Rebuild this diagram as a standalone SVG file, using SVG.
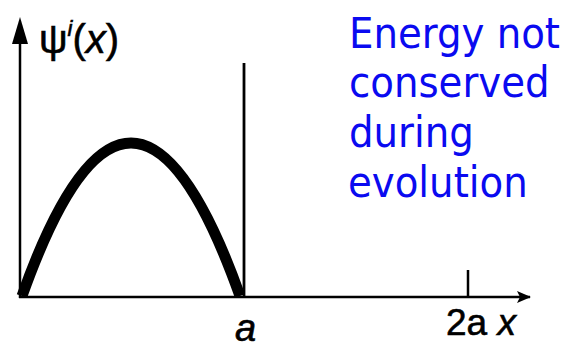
<svg xmlns="http://www.w3.org/2000/svg" width="565" height="351" viewBox="0 0 565 351">
<style>
.ax{stroke:#000;stroke-width:2.5;fill:none}
.lbl{font-family:"Liberation Sans",Arial,sans-serif;fill:#000;stroke:#000;stroke-width:0.6}
.note{font-family:"DejaVu Sans Condensed","DejaVu Sans",sans-serif;font-size:43px;fill:#0a0af0}
</style>
<defs>
<marker id="arr" markerWidth="14" markerHeight="12" refX="13" refY="6" orient="auto" markerUnits="userSpaceOnUse">
<path d="M0,0 L14,6 L0,12 L3,6 Z" fill="#000"/>
</marker>
</defs>
<rect width="565" height="351" fill="#fff"/>
<g id="connectors">
<path class="ax" d="M20,298 L20,44"/>
<path d="M20,17 L12,44 L28,44 Z" fill="#000"/>
<path class="ax" d="M19,297 L530,297" marker-end="url(#arr)"/>
<path class="ax" d="M244,63 L244,297" style="stroke-width:2.8"/>
<path class="ax" d="M468,270 L468,297"/>
</g>
<g id="curve">
<path d="M22,296 Q131,-10 240,296" fill="none" stroke="#000" stroke-width="11"/>
</g>
<g id="ylabel">
<text class="lbl" x="39" y="53" font-size="40">ψ<tspan font-style="italic" font-size="22" dy="-17">i</tspan><tspan dy="17" font-size="40">(</tspan><tspan font-style="italic" font-size="40">x</tspan><tspan font-size="40">)</tspan></text>
</g>
<g id="xlabels">
<text class="lbl" x="235" y="341" font-size="38" font-style="italic">a</text>
<text class="lbl" x="446" y="335" font-size="37">2a <tspan font-style="italic">x</tspan></text>
</g>
<g id="note">
<text class="note" x="349" y="48">Energy not</text>
<text class="note" x="349" y="97">conserved</text>
<text class="note" x="349" y="147">during</text>
<text class="note" x="348" y="197">evolution</text>
</g>
</svg>
